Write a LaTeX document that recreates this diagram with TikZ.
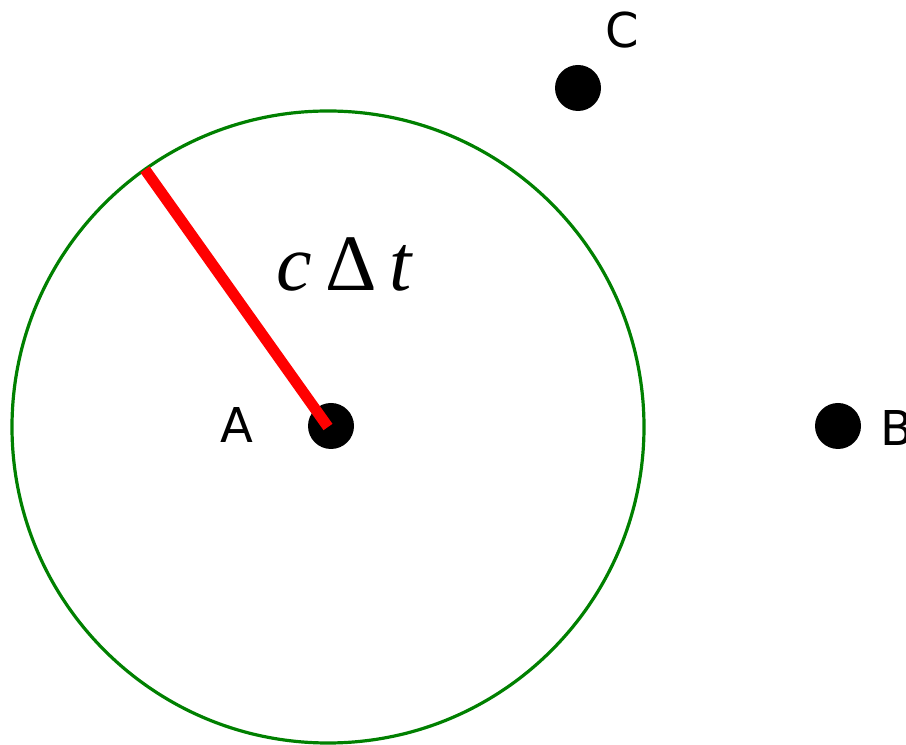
\documentclass[tikz,border=0pt]{standalone}
\usepackage{fontspec}
\setmainfont{DejaVu Sans}
\newfontfamily\timesfont{Liberation Serif}
\usetikzlibrary{positioning,calc}
\definecolor{ringgreen}{RGB}{0,128,0}
\definecolor{radred}{RGB}{255,0,0}

\tikzset{
  dot/.style={circle,fill=black,inner sep=0pt,minimum size=23pt},
  ptlabel/.style={font=\fontsize{24}{28}\selectfont,inner sep=0pt}
}

\begin{document}
\begin{tikzpicture}[x=0.5pt,y=0.5pt]
\useasboundingbox (0,0) rectangle (906,745);
% the three points
\node[dot] (A) at (331,319) {};
\node[dot] (B) at (838,319) {};
\node[dot] (C) at (578,657) {};
\node[ptlabel] (labA) at (237,320) {A};
\node[ptlabel,anchor=west] (labB) at (880,317) {B};
\node[ptlabel] (labC) at (622,715) {C};
% light sphere round A
\coordinate (O) at (328,318);
\draw[ringgreen,line width=1.6pt] (O) circle (316);
\coordinate (rim) at ($(O)+(125.4:316)$);
\draw[radred,line width=5.5pt] (rim) -- (O);
\node[font=\timesfont\fontsize{40}{46}\selectfont,inner sep=0pt] (lab) at (345,481) {\textit{c}\,Δ\,\textit{t}};
\end{tikzpicture}
\end{document}
